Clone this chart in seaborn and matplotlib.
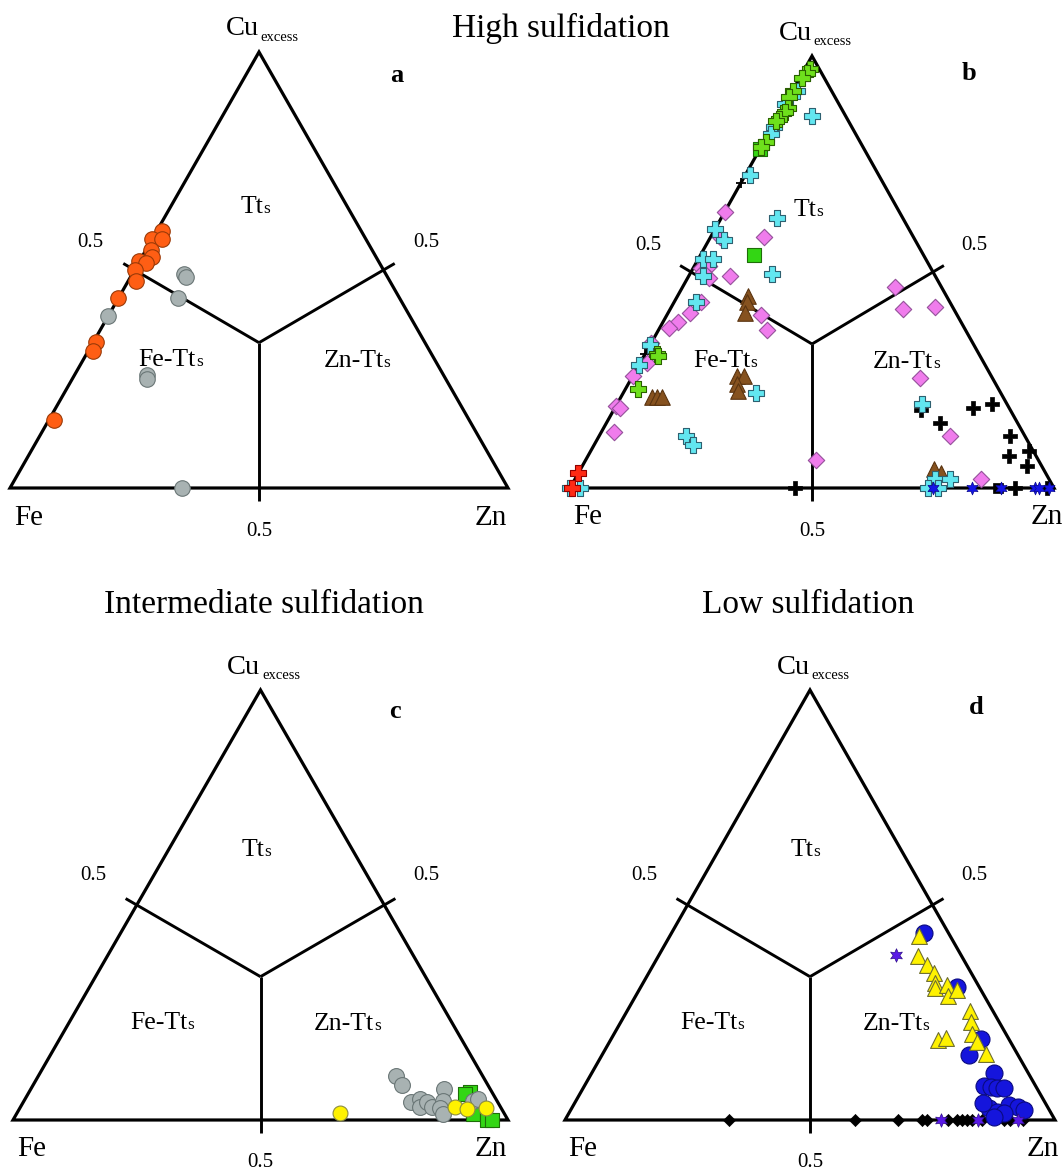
import numpy as np
import pandas as pd
import seaborn as sns
import matplotlib.pyplot as plt

sns.set_style('white')
plt.rcParams['font.family'] = ['Liberation Serif', 'DejaVu Serif']
plt.rcParams['text.color'] = 'black'

# Compositions: Cu_excess and Zn fractions (Fe = 1 - Cu - Zn)

# a - high sulfidation
a_orange_cu = [0.59, 0.57, 0.57, 0.545, 0.53, 0.52, 0.515, 0.50, 0.475, 0.435, 0.335, 0.315, 0.155]
a_orange_zn = [0.01, 0.0, 0.02, 0.01, 0.02, 0.0, 0.015, 0.0, 0.015, 0.0, 0.005, 0.01, 0.01]
a_gray_cu = [0.49, 0.485, 0.435, 0.395, 0.26, 0.25, 0.0]
a_gray_zn = [0.105, 0.11, 0.12, 0.0, 0.145, 0.15, 0.345]

# b - high sulfidation
b_green_plus_cu = [0.97, 0.96, 0.95, 0.92, 0.905, 0.88, 0.87, 0.855, 0.85, 0.80, 0.79, 0.31, 0.305, 0.23]
b_green_plus_zn = [0.01, 0.01, 0.005, 0.0, 0.0, 0.01, 0.01, 0.005, 0.0, 0.005, 0.0, 0.025, 0.03, 0.025]
b_green_sq_cu = [0.785, 0.54]
b_green_sq_zn = [0.0, 0.11]
b_cyan_cu = [0.92, 0.89, 0.835, 0.82, 0.725, 0.86, 0.60, 0.575, 0.53, 0.53, 0.49, 0.495, 0.43,
             0.33, 0.285, 0.22, 0.12, 0.10, 0.0, 0.0, 0.195, 0.02, 0.0, 0.0, 0.02, 0.625]
b_cyan_zn = [0.01, 0.0, 0.005, 0.005, 0.01, 0.07, 0.0, 0.03, 0.01, 0.03, 0.03, 0.17, 0.045,
             0.0, 0.0, 0.275, 0.18, 0.205, 0.02, 0.0, 0.63, 0.745, 0.74, 0.76, 0.775, 0.115]
b_pink_cu = [0.64, 0.58, 0.58, 0.51, 0.515, 0.485, 0.50, 0.49, 0.43, 0.405, 0.385, 0.37, 0.40, 0.365,
             0.335, 0.29, 0.26, 0.19, 0.185, 0.13, 0.065, 0.465, 0.415, 0.42, 0.255, 0.12, 0.02]
b_pink_zn = [0.0, 0.11, 0.02, 0.015, 0.03, 0.045, 0.025, 0.085, 0.055, 0.045, 0.03, 0.02, 0.195, 0.225,
             0.0, 0.015, 0.0, 0.0, 0.01, 0.025, 0.475, 0.44, 0.48, 0.545, 0.595, 0.725, 0.84]
b_brown_cu = [0.445, 0.43, 0.405, 0.21, 0.21, 0.21, 0.26, 0.26, 0.24, 0.225, 0.045, 0.035]
b_brown_zn = [0.145, 0.15, 0.16, 0.065, 0.075, 0.085, 0.215, 0.23, 0.225, 0.235, 0.73, 0.75]
b_black_plus_cu = [0.18, 0.15, 0.185, 0.195, 0.12, 0.075, 0.085, 0.05, 0.0, 0.0, 0.0, 0.625]
b_black_plus_zn = [0.635, 0.69, 0.74, 0.775, 0.85, 0.87, 0.905, 0.92, 0.465, 0.92, 0.985, 0.115]
b_black_sq_cu = [0.0]
b_black_sq_zn = [0.885]
b_tick_cu = [0.905, 0.705, 0.31]
b_tick_zn = [0.0, 0.0, 0.0]
b_blue_star_cu = [0.0, 0.0, 0.0, 0.0, 0.0, 0.0]
b_blue_star_zn = [0.75, 0.83, 0.89, 0.96, 0.97, 0.99]
b_red_plus_cu = [0.035, 0.0]
b_red_plus_zn = [0.0, 0.005]

# c - intermediate sulfidation
c_green_sq_cu = [0.066, 0.061, 0.013, 0.0, 0.0]
c_green_sq_zn = [0.890, 0.883, 0.923, 0.957, 0.967]
c_gray_cu = [0.103, 0.081, 0.041, 0.048, 0.031, 0.041, 0.031, 0.073, 0.044, 0.028, 0.013, 0.044, 0.048]
c_gray_zn = [0.723, 0.745, 0.784, 0.798, 0.806, 0.815, 0.830, 0.834, 0.847, 0.848, 0.862, 0.907, 0.915]
c_yellow_cu = [0.016, 0.031, 0.026, 0.028]
c_yellow_zn = [0.653, 0.877, 0.904, 0.942]

# d - low sulfidation
d_blue_cu = [0.434, 0.309, 0.188, 0.151, 0.109, 0.078, 0.076, 0.074, 0.074, 0.027, 0.019,
             0.035, 0.031, 0.023, 0.016, 0.008, 0.04]
d_blue_zn = [0.516, 0.646, 0.755, 0.749, 0.821, 0.816, 0.831, 0.845, 0.859, 0.852, 0.873,
             0.889, 0.908, 0.926, 0.888, 0.872, 0.833]
d_yellow_cu = [0.429, 0.382, 0.360, 0.341, 0.318, 0.306, 0.315, 0.289, 0.302, 0.254, 0.228,
               0.201, 0.182, 0.153, 0.186, 0.191]
d_yellow_zn = [0.507, 0.530, 0.558, 0.582, 0.596, 0.602, 0.622, 0.638, 0.650, 0.700, 0.714,
               0.730, 0.749, 0.782, 0.669, 0.683]
d_black_dia_zn = [0.335, 0.592, 0.680, 0.728, 0.738, 0.782, 0.799, 0.810, 0.820, 0.830, 0.850,
                  0.895, 0.908, 0.935]
d_black_dia_cu = [0.0] * len(d_black_dia_zn)
d_star_cu = [0.383, 0.0, 0.0, 0.0]
d_star_zn = [0.484, 0.767, 0.842, 0.925]

W, H = 1062, 1176
fig = plt.figure(figsize=(W / 100, H / 100), dpi=100)


def make_panel(left, base, width, height):
    # axes spans the triangle's bounding box: x = Zn + Cu/2, y = Cu
    ax = fig.add_axes([left / W, 1 - base / H, width / W, height / H])
    ax.set_xlim(0, 1)
    ax.set_ylim(0, 1)
    ax.axis('off')
    ax.add_patch(plt.Polygon([[0, 0], [1, 0], [0.5, 1]], closed=True, fill=False,
                             ec='black', lw=2.3, joinstyle='miter', clip_on=False, zorder=2))
    c = np.array([0.5, 1 / 3])
    for mid in [(0.25, 0.5), (0.75, 0.5)]:
        end = c + 1.09 * (np.array(mid) - c)
        ax.plot([c[0], end[0]], [c[1], end[1]], color='black', lw=2.1,
                solid_capstyle='butt', clip_on=False, zorder=2)
    ax.plot([0.5, 0.5], [1 / 3, -0.03], color='black', lw=2.1,
            solid_capstyle='butt', clip_on=False, zorder=2)
    return ax


def labels(ax, letter, letter_pos, row, zn_x=0.965):
    if row == 'top':
        tt, fe_tt, zn_tt = (0.509, 0.63), (0.373, 0.28), (0.75, 0.278)
        half_y, cu_y = 0.552, 1.038
    else:
        tt, fe_tt, zn_tt = (0.507, 0.615), (0.352, 0.212), (0.73, 0.21)
        half_y, cu_y = 0.557, 1.038
    ax.text(0.5, cu_y, 'Cu', ha='right', va='baseline', fontsize=20.5)
    ax.text(0.503, cu_y - 0.013, 'excess', ha='left', va='baseline', fontsize=10.5)
    ax.text(*letter_pos, letter, ha='center', va='center', fontsize=19, fontweight='bold')
    for (x, y), pre in [(tt, 'Tt'), (fe_tt, 'Fe-Tt'), (zn_tt, 'Zn-Tt')]:
        ax.text(x, y, pre, ha='right', va='baseline', fontsize=18.5)
        ax.text(x, y, 's', ha='left', va='baseline', fontsize=12.5)
    ax.text(0.162, half_y, '0.5', ha='center', va='baseline', fontsize=15)
    ax.text(0.835, half_y, '0.5', ha='center', va='baseline', fontsize=15)
    ax.text(0.5, -0.11, '0.5', ha='center', va='baseline', fontsize=15)
    ax.text(0.037, -0.084, 'Fe', ha='center', va='baseline', fontsize=21)
    ax.text(zn_x, -0.084, 'Zn', ha='center', va='baseline', fontsize=21)


def scatter(ax, cu, zn, z, **kw):
    cu = np.asarray(cu, dtype=float)
    zn = np.asarray(zn, dtype=float)
    df = pd.DataFrame({'x': zn + cu / 2, 'y': cu})
    sns.scatterplot(data=df, x='x', y='y', ax=ax, clip_on=False, zorder=z, **kw)


ax_a = make_panel(10, 488, 498, 436)
ax_b = make_panel(570, 488, 484, 432)
ax_c = make_panel(13, 1120, 495, 430)
ax_d = make_panel(565, 1120, 490, 430)

labels(ax_a, 'a', (0.777, 0.947), 'top')
labels(ax_b, 'b', (0.824, 0.960), 'top', zn_x=0.985)
labels(ax_c, 'c', (0.772, 0.950), 'bottom')
labels(ax_d, 'd', (0.840, 0.959), 'bottom', zn_x=0.975)

fig.text(561 / W, 1 - 37 / H, 'High sulfidation', ha='center', va='baseline', fontsize=24)
fig.text(264 / W, 1 - 613 / H, 'Intermediate sulfidation', ha='center', va='baseline', fontsize=24)
fig.text(808 / W, 1 - 613 / H, 'Low sulfidation', ha='center', va='baseline', fontsize=24)

# panel a
scatter(ax_a, a_gray_cu, a_gray_zn, 3, marker='o', s=125, color='#A8B2B2', edgecolor='#6A7676', linewidth=0.8)
scatter(ax_a, a_orange_cu, a_orange_zn, 4, marker='o', s=125, color='#FF5E14', edgecolor='#9A3A08', linewidth=0.8)

# panel b
scatter(ax_b, b_tick_cu, b_tick_zn, 3, marker='+', s=50, color='black', linewidth=1.3)
scatter(ax_b, b_pink_cu, b_pink_zn, 3, marker='D', s=70, color='#F07CEC', edgecolor='#94509A', linewidth=0.8)
scatter(ax_b, b_brown_cu, b_brown_zn, 4, marker='^', s=125, color='#86521F', edgecolor='#5A3410', linewidth=0.8)
scatter(ax_b, b_green_sq_cu, b_green_sq_zn, 4, marker='s', s=115, color='#33D614', edgecolor='#1E6E08', linewidth=0.8)
scatter(ax_b, b_black_plus_cu, b_black_plus_zn, 4, marker='P', s=105, color='black', edgecolor='black', linewidth=0.5)
scatter(ax_b, b_black_sq_cu, b_black_sq_zn, 4, marker='s', s=50, color='black', edgecolor='black', linewidth=0.5)
scatter(ax_b, b_cyan_cu, b_cyan_zn, 5, marker='P', s=120, color='#62E6F0', edgecolor='#2E6070', linewidth=0.8)
scatter(ax_b, b_green_plus_cu, b_green_plus_zn, 6, marker='P', s=120, color='#6EE01C', edgecolor='#2A6000', linewidth=0.8)
scatter(ax_b, b_blue_star_cu, b_blue_star_zn, 6, marker=(6, 1, 0), s=85, color='#1414E6', edgecolor='#0A0A90', linewidth=0.5)
scatter(ax_b, b_red_plus_cu, b_red_plus_zn, 7, marker='P', s=120, color='#FF2A14', edgecolor='#900000', linewidth=0.8)

# panel c
scatter(ax_c, c_green_sq_cu, c_green_sq_zn, 3, marker='s', s=110, color='#33D614', edgecolor='#1E6E08', linewidth=0.8)
scatter(ax_c, c_gray_cu, c_gray_zn, 4, marker='o', s=130, color='#A8B2B2', edgecolor='#6A7676', linewidth=0.8)
scatter(ax_c, c_yellow_cu, c_yellow_zn, 5, marker='o', s=115, color='#FFF200', edgecolor='#8C8C40', linewidth=0.8)

# panel d
scatter(ax_d, d_black_dia_cu, d_black_dia_zn, 3, marker='D', s=38, color='black', edgecolor='black', linewidth=0.5)
scatter(ax_d, d_blue_cu, d_blue_zn, 4, marker='o', s=150, color='#1515DC', edgecolor='#0A0A80', linewidth=0.8)
scatter(ax_d, d_yellow_cu, d_yellow_zn, 5, marker='^', s=130, color='#FFF200', edgecolor='#6E6E30', linewidth=0.8)
scatter(ax_d, d_star_cu, d_star_zn, 6, marker=(6, 1, 0), s=95, color='#5A1AE6', edgecolor='#30108A', linewidth=0.5)

fig.savefig('out.png', dpi=100)
